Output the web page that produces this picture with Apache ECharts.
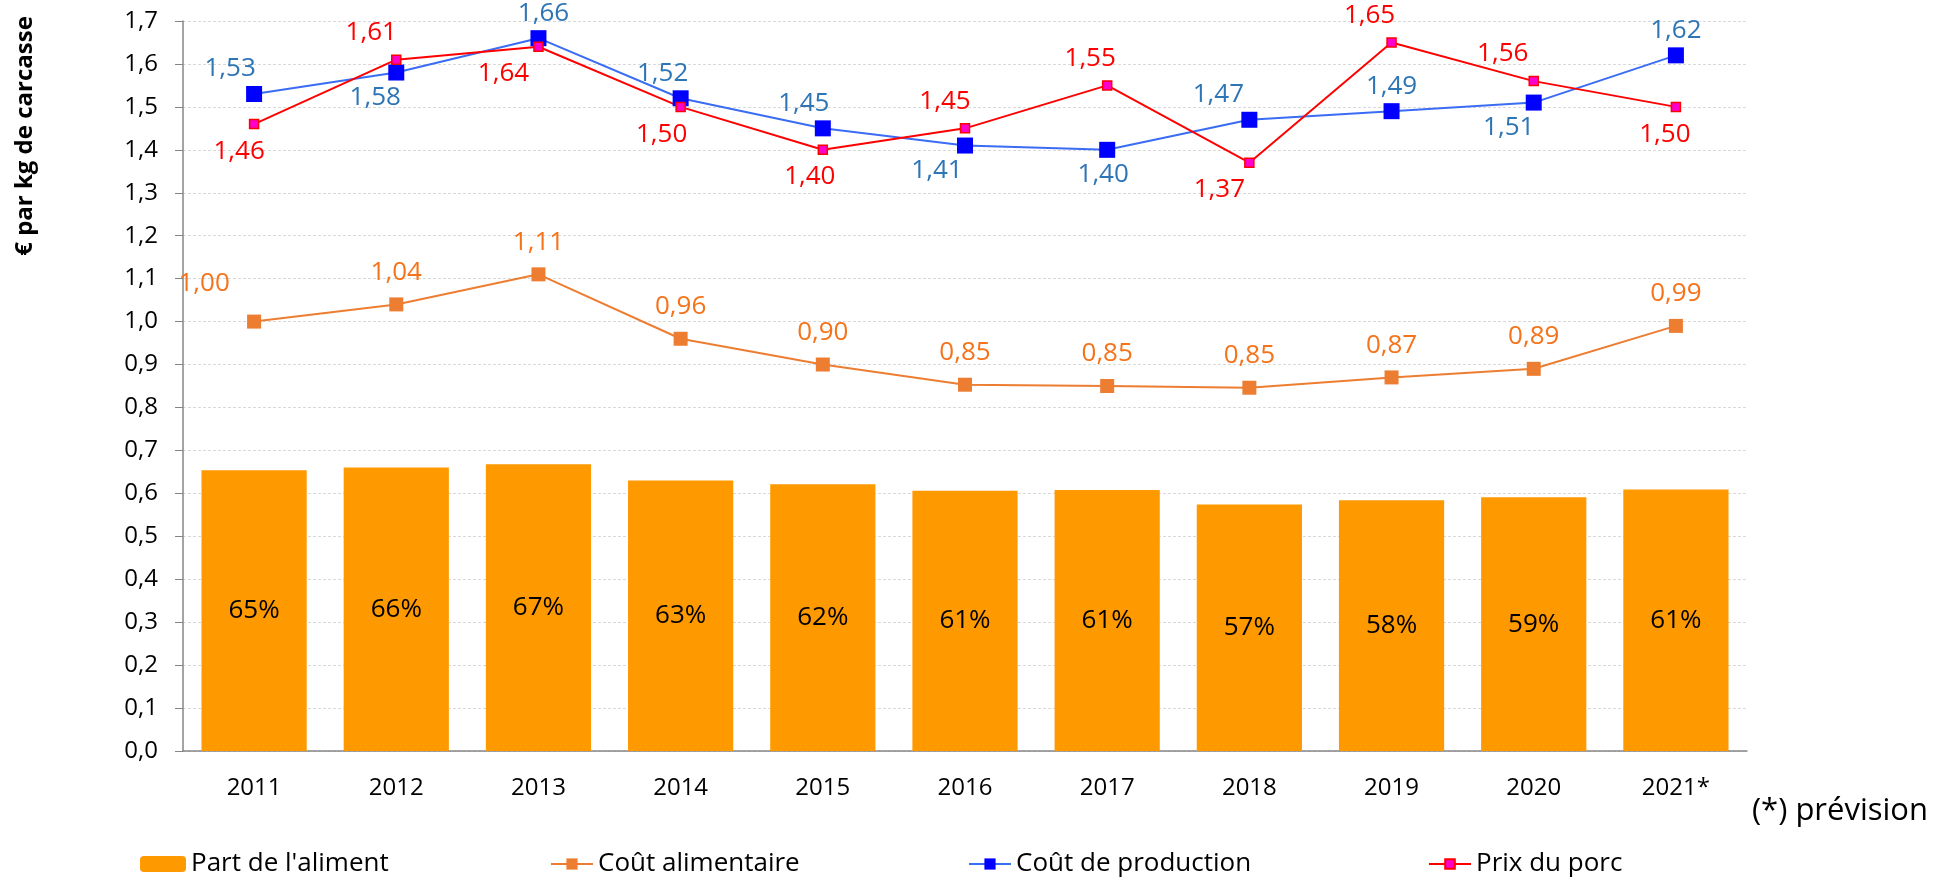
<!DOCTYPE html>
<html>
<head>
<meta charset="utf-8">
<script src="https://cdn.jsdelivr.net/npm/echarts@6.0.0/dist/echarts.min.js"></script>
<style>
  html, body { margin: 0; padding: 0; background: #fff; }
  #chart { width: 1957px; height: 879px; }
</style>
</head>
<body>
<div id="chart"></div>
<script>
  // années (2021 = prévision)
  const years = ['2011', '2012', '2013', '2014', '2015', '2016', '2017', '2018', '2019', '2020', '2021*'];
  // part de l'aliment dans le coût de production
  const partAliment = [0.654, 0.660, 0.668, 0.630, 0.621, 0.606, 0.608, 0.574, 0.584, 0.591, 0.609];
  // €/kg de carcasse
  const coutAlimentaire = [1.00, 1.04, 1.11, 0.96, 0.90, 0.853, 0.850, 0.846, 0.87, 0.89, 0.99];
  const coutProduction = [1.53, 1.58, 1.66, 1.52, 1.45, 1.41, 1.40, 1.47, 1.49, 1.51, 1.62];
  const prixPorc = [1.46, 1.61, 1.64, 1.50, 1.40, 1.45, 1.55, 1.37, 1.65, 1.56, 1.50];

  // placement des étiquettes (comme dans le graphique d'origine)
  const prodLabelPos = ['top', 'bottom', 'top', 'top', 'top', 'bottom', 'bottom', 'top', 'top', 'bottom', 'top'];
  const prodLabelDx = [-24, -21, 5, -18, -19, -28, -4, -31, 0, -25, 0];
  const porcLabelPos = ['bottom', 'top', 'bottom', 'bottom', 'bottom', 'top', 'top', 'bottom', 'top', 'top', 'bottom'];
  const porcLabelDx = [-15, -25, -35, -19, -13, -20, -17, -30, -22, -31, -11];

  const FONT = '"Open Sans", "Noto Sans", sans-serif';
  const fmt = v => v.toFixed(2).replace('.', ',');

  function withLabels(values, positions, dx) {
    return values.map((v, i) => ({
      value: v,
      label: { position: positions[i], offset: [dx[i], 0] }
    }));
  }

  const alimData = coutAlimentaire.map((v, i) => {
    if (i === 0) {
      return { value: v, label: { offset: [-50, -6] } };
    }
    return v;
  });

  const chart = echarts.init(document.getElementById('chart'));
  chart.setOption({
    animation: false,
    textStyle: { fontFamily: FONT },
    grid: { left: 183, right: 210, top: 21, bottom: 128 },
    xAxis: {
      type: 'category',
      data: years,
      axisLine: { lineStyle: { color: '#868686', width: 1.5 } },
      axisTick: { show: false },
      axisLabel: { color: '#000', fontSize: 24, margin: 25, fontFamily: FONT }
    },
    yAxis: {
      type: 'value',
      min: 0,
      max: 1.7,
      interval: 0.1,
      axisLine: { show: true, lineStyle: { color: '#868686', width: 1.5 } },
      axisTick: { show: true, length: 8, lineStyle: { color: '#868686' } },
      axisLabel: {
        color: '#000', fontSize: 24, margin: 25, fontFamily: FONT,
        formatter: v => v.toFixed(1).replace('.', ',')
      },
      splitLine: { lineStyle: { color: '#d9d9d9', type: [3, 2] } }
    },
    legend: [
      {
        data: ["Part de l'aliment"], left: 135, top: 846,
        itemWidth: 46, itemHeight: 16,
        textStyle: { fontSize: 26, color: '#000', fontFamily: FONT }
      },
      {
        data: ['Coût alimentaire'], left: 545, top: 846,
        itemWidth: 42, itemHeight: 14,
        textStyle: { fontSize: 26, color: '#000', fontFamily: FONT }
      },
      {
        data: ['Coût de production'], left: 963, top: 846,
        itemWidth: 42, itemHeight: 14,
        textStyle: { fontSize: 26, color: '#000', fontFamily: FONT }
      },
      {
        data: ['Prix du porc'], left: 1423, top: 846,
        itemWidth: 42, itemHeight: 12,
        textStyle: { fontSize: 26, color: '#000', fontFamily: FONT }
      }
    ],
    graphic: [
      {
        type: 'text', x: 25, y: 136, rotation: Math.PI / 2,
        style: {
          text: '€ par kg de carcasse', fill: '#000',
          font: 'bold 24px ' + FONT, align: 'center', verticalAlign: 'middle'
        }
      },
      {
        type: 'text', x: 1928, y: 811,
        style: {
          text: '(*) prévision', fill: '#000',
          font: '31px ' + FONT, align: 'right', verticalAlign: 'middle'
        }
      }
    ],
    series: [
      {
        name: "Part de l'aliment",
        type: 'bar',
        data: partAliment,
        barCategoryGap: '26%',
        itemStyle: { color: '#FF9900' },
        label: {
          show: true, position: 'inside', color: '#000', fontSize: 26, fontFamily: FONT,
          formatter: p => Math.round(p.value * 100) + '%'
        }
      },
      {
        name: 'Coût alimentaire',
        type: 'line',
        data: alimData,
        symbol: 'rect',
        symbolSize: 14,
        itemStyle: { color: '#ED7D31' },
        lineStyle: { color: '#ED7D31', width: 2 },
        label: {
          show: true, position: 'top', distance: 12, color: '#F5731B', fontSize: 26, fontFamily: FONT,
          formatter: p => fmt(p.value)
        }
      },
      {
        name: 'Coût de production',
        type: 'line',
        data: withLabels(coutProduction, prodLabelPos, prodLabelDx),
        symbol: 'rect',
        symbolSize: 16,
        itemStyle: { color: '#0000FF' },
        lineStyle: { color: '#3A6CF4', width: 2 },
        label: {
          show: true, distance: 4, color: '#2E75B6', fontSize: 26, fontFamily: FONT,
          formatter: p => fmt(p.value)
        }
      },
      {
        name: 'Prix du porc',
        type: 'line',
        data: withLabels(prixPorc, porcLabelPos, porcLabelDx),
        symbol: 'rect',
        symbolSize: 9,
        itemStyle: { color: '#FF00CC', borderColor: '#FF0000', borderWidth: 1.5 },
        lineStyle: { color: '#FF0000', width: 2 },
        label: {
          show: true, distance: 9, color: '#FF0000', fontSize: 26, fontFamily: FONT,
          formatter: p => fmt(p.value)
        }
      }
    ]
  });
</script>
</body>
</html>
